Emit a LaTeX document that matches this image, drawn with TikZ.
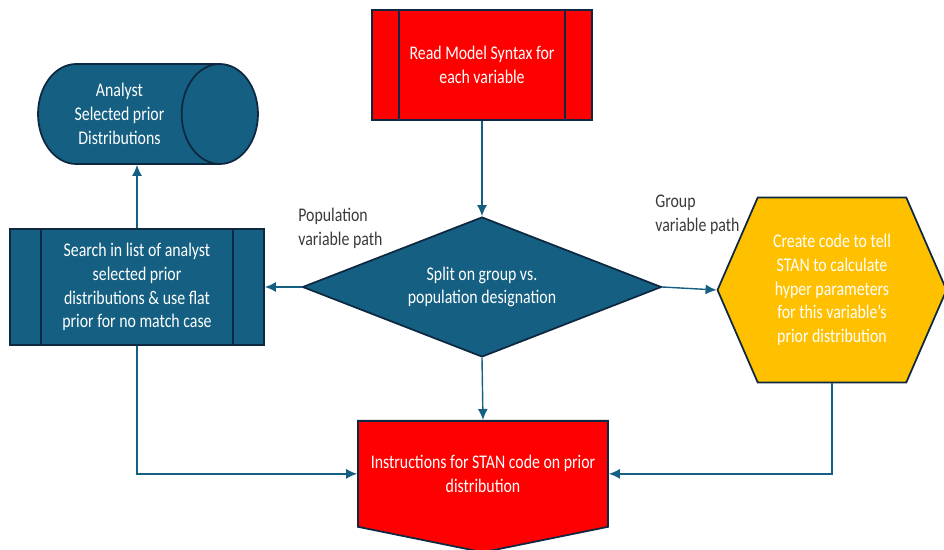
\documentclass[tikz,border=0pt]{standalone}
\usepackage{fontspec}
\setmainfont{Carlito}[FakeStretch=0.82]
\usepackage{tikz}
\usetikzlibrary{positioning,arrows.meta,calc,shapes.geometric,shapes.symbols}
\definecolor{flowblue}{HTML}{156082}
\definecolor{edgenavy}{HTML}{0E2841}
\definecolor{flowred}{HTML}{FF0000}
\definecolor{flowgold}{HTML}{FFC000}
\definecolor{labelgray}{HTML}{3A3A3A}
\tikzset{
  flowarrow/.style={-{Latex[length=2.2mm,width=2mm]}, line width=0.8pt, flowblue},
  procnode/.style={draw=edgenavy, line width=1pt, align=center, text=white, inner sep=2pt},
  storenode/.style={cylinder, draw=edgenavy, line width=1pt, fill=flowblue, aspect=1.05, minimum width=2cm, minimum height=4.4cm, align=center, text=white},
  decisionnode/.style={diamond, aspect=2.56, draw=edgenavy, line width=1pt, fill=flowblue, minimum width=7.18cm, minimum height=2.8cm, inner sep=0pt, align=center, text=white},
  hexnode/.style={signal, signal to=west and east, signal pointer angle=133, draw=edgenavy, line width=1pt, fill=flowgold, minimum width=4.58cm, minimum height=3.7cm, inner sep=1pt, align=center, text=white},
  outnode/.style={signal, signal to=south, signal pointer angle=157, draw=edgenavy, line width=1pt, fill=flowred, minimum width=5cm, minimum height=2.6cm, align=center, text=white},
  pathlabel/.style={align=left, text=labelgray, inner sep=0pt}
}

\begin{document}
\begin{tikzpicture}[x=0.02cm, y=-0.02cm, every node/.style={font=\fontsize{11}{13.5}\selectfont}]
  \useasboundingbox (0,0) rectangle (944,550);
  % process boxes with side bars
  \node[procnode, fill=flowred, minimum width=4.4cm, minimum height=2.2cm] (read) at (482,65) {Read Model Syntax for\\each variable};
  \draw[edgenavy, line width=1pt] ($(read.north west)+(28,0)$) -- ($(read.south west)+(28,0)$);
  \draw[edgenavy, line width=1pt] ($(read.north east)+(-28,0)$) -- ($(read.south east)+(-28,0)$);
  \node[storenode, anchor=shape center] (prior) at (148,114) {Analyst\\Selected prior\\Distributions};
  \node[procnode, fill=flowblue, minimum width=5.08cm, minimum height=2.32cm] (search) at (137,287) {Search in list of analyst\\selected prior\\distributions \& use flat\\prior for no match case};
  \draw[edgenavy, line width=1pt] ($(search.north west)+(32,0)$) -- ($(search.south west)+(32,0)$);
  \draw[edgenavy, line width=1pt] ($(search.north east)+(-32,0)$) -- ($(search.south east)+(-32,0)$);
  \node[decisionnode] (split) at (482,287) {Split on group vs.\\population designation};
  \node[hexnode] (hyper) at (832,290) {Create code to tell\\STAN to calculate\\hyper parameters\\for this variable's\\prior distribution};
  \node[outnode, anchor=north] (instr) at (483,420) {Instructions for STAN code on prior\\distribution};
  % path labels
  \node[pathlabel, anchor=north west] (poplabel) at (298,208) {Population\\variable path};
  \node[pathlabel, anchor=north west] (grplabel) at (655,195) {Group\\variable path};
  % connectors
  \draw[flowarrow] (read) -- (split);
  \draw[flowarrow] (split.south) -- (instr.north);
  \draw[flowarrow] (split.west) -- (search.east);
  \draw[flowarrow] (split.east) -- (hyper.west);
  \draw[flowarrow] (search.north) -- (search.north |- prior.south);
  \draw[flowarrow] (search.south) |- (instr.west);
  \draw[flowarrow] (hyper.south) |- (instr.east);
\end{tikzpicture}
\end{document}
